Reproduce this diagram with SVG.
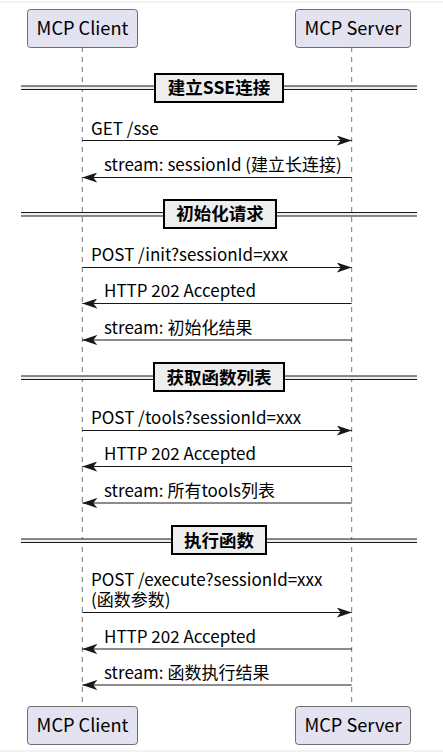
<svg xmlns="http://www.w3.org/2000/svg" width="443" height="755" viewBox="0 0 443 755">
<defs>
<style>
.part rect{fill:#E2E2F0;stroke:#181818;stroke-width:0.6}
.part text{font-family:"Noto Sans CJK SC","Noto Sans",sans-serif;font-size:18.2px;fill:#000;text-anchor:middle}
.life{stroke:#181818;stroke-width:0.6;stroke-dasharray:5,5}
.msg line{stroke:#181818;stroke-width:1}
.msg text{font-family:"Noto Sans CJK SC","Noto Sans",sans-serif;font-size:17px;fill:#000}
.div line{stroke:#181818;stroke-width:1}
.div rect.band{fill:#EEEEEE;stroke:none}
.div rect.box{fill:#EEEEEE;stroke:#000;stroke-width:2}
.div text{font-family:"Noto Sans CJK SC","Noto Sans",sans-serif;font-size:17.5px;font-weight:bold;fill:#000;text-anchor:middle}
</style>
<marker id="ah" viewBox="0 0 15 10" refX="15" refY="5" markerWidth="15" markerHeight="10" markerUnits="userSpaceOnUse" orient="auto">
<polygon points="0,0 15,5 0,10 4,5" fill="#181818"/>
</marker>
</defs>
<rect x="0" y="0" width="443" height="755" fill="#fff"/>
<line x1="0" y1="2" x2="443" y2="2" stroke="#e6e6e6" stroke-width="1"/>
<line x1="0" y1="751" x2="443" y2="751" stroke="#e6e6e6" stroke-width="1"/>
<g id="lifelines">
<line class="life" x1="82.3" y1="47" x2="82.3" y2="707"/>
<line class="life" x1="351.7" y1="47" x2="351.7" y2="707"/>
</g>
<g id="client-top" class="part"><rect x="27.5" y="9.5" width="110" height="38" rx="3"/><text x="82.5" y="34.5">MCP Client</text></g>
<g id="server-top" class="part"><rect x="295.5" y="9.5" width="115" height="38" rx="3"/><text x="353" y="34.5">MCP Server</text></g>
<g id="client-bottom" class="part"><rect x="27.5" y="706.5" width="110" height="38" rx="3"/><text x="82.5" y="731.5">MCP Client</text></g>
<g id="server-bottom" class="part"><rect x="295.5" y="706.5" width="115" height="38" rx="3"/><text x="353" y="731.5">MCP Server</text></g>

<g id="div1" class="div">
<rect class="band" x="21" y="86" width="396" height="3"/>
<line x1="21" y1="86" x2="417" y2="86"/><line x1="21" y1="89.5" x2="417" y2="89.5"/>
<rect class="box" x="155" y="74" width="128" height="28"/>
<text x="219" y="94">建立SSE连接</text>
</g>
<g id="div2" class="div">
<rect class="band" x="21" y="212.5" width="396" height="3"/>
<line x1="21" y1="212.5" x2="417" y2="212.5"/><line x1="21" y1="216" x2="417" y2="216"/>
<rect class="box" x="164" y="200" width="112" height="28"/>
<text x="220" y="220">初始化请求</text>
</g>
<g id="div3" class="div">
<rect class="band" x="21" y="376" width="396" height="3"/>
<line x1="21" y1="376" x2="417" y2="376"/><line x1="21" y1="379.5" x2="417" y2="379.5"/>
<rect class="box" x="154" y="363" width="130" height="28"/>
<text x="219" y="383.5">获取函数列表</text>
</g>
<g id="div4" class="div">
<rect class="band" x="21" y="539" width="396" height="3"/>
<line x1="21" y1="539" x2="417" y2="539"/><line x1="21" y1="542.5" x2="417" y2="542.5"/>
<rect class="box" x="172" y="526" width="94" height="28"/>
<text x="219" y="546.5">执行函数</text>
</g>

<g id="connectors" class="msg">
<line x1="82.3" y1="140.5" x2="351.7" y2="140.5" marker-end="url(#ah)"/>
<text x="91" y="134.5">GET /sse</text>
<line x1="351.7" y1="177.5" x2="82.3" y2="177.5" marker-end="url(#ah)"/>
<text x="104" y="170.5">stream: sessionId (建立长连接)</text>

<line x1="82.3" y1="267.5" x2="351.7" y2="267.5" marker-end="url(#ah)"/>
<text x="91" y="261">POST /init?sessionId=xxx</text>
<line x1="351.7" y1="303.5" x2="82.3" y2="303.5" marker-end="url(#ah)"/>
<text x="104" y="297">HTTP 202 Accepted</text>
<line x1="351.7" y1="340" x2="82.3" y2="340" marker-end="url(#ah)"/>
<text x="104" y="333.5">stream: 初始化结果</text>

<line x1="82.3" y1="430.5" x2="351.7" y2="430.5" marker-end="url(#ah)"/>
<text x="91" y="424">POST /tools?sessionId=xxx</text>
<line x1="351.7" y1="466.5" x2="82.3" y2="466.5" marker-end="url(#ah)"/>
<text x="104" y="460">HTTP 202 Accepted</text>
<line x1="351.7" y1="503" x2="82.3" y2="503" marker-end="url(#ah)"/>
<text x="104" y="496.5">stream: 所有tools列表</text>

<line x1="82.3" y1="612.5" x2="351.7" y2="612.5" marker-end="url(#ah)"/>
<text x="91" y="585.5"><tspan x="91" y="585.5">POST /execute?sessionId=xxx</tspan><tspan x="91" y="605.5">(函数参数)</tspan></text>
<line x1="351.7" y1="649" x2="82.3" y2="649" marker-end="url(#ah)"/>
<text x="104" y="642.5">HTTP 202 Accepted</text>
<line x1="351.7" y1="685" x2="82.3" y2="685" marker-end="url(#ah)"/>
<text x="104" y="678.5">stream: 函数执行结果</text>
</g>
</svg>
